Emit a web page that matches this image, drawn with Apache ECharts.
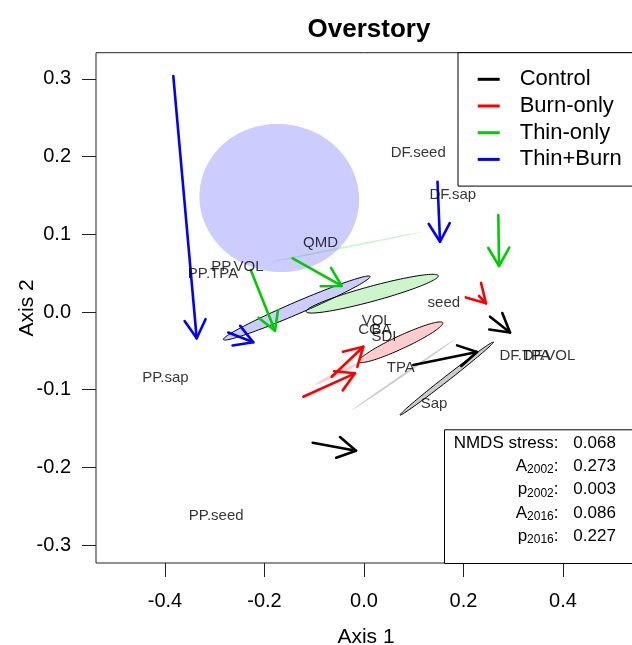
<!DOCTYPE html>
<html>
<head>
<meta charset="utf-8">
<script src="https://cdn.jsdelivr.net/npm/echarts@6/dist/echarts.min.js"></script>
<style>
  html, body { margin: 0; padding: 0; background: #fff; }
  #chart { width: 632px; height: 645px; }
</style>
</head>
<body>
<div id="chart"></div>
<script>
// NMDS ordination of overstory plots, 2002 -> 2016, by treatment

const treatments = ['Control', 'Burn-only', 'Thin-only', 'Thin+Burn'];

// Plot centroid shifts between surveys: [x2002, y2002, x2016, y2016]
const controlShifts  = [[-0.1031, -0.1682, -0.0161, -0.1785], [0.0991, -0.0682, 0.2271, -0.0515], [0.2533, -0.0060, 0.2935, -0.0264]];
const burnShifts     = [[-0.1220, -0.1090, -0.0181, -0.0789], [-0.0649, -0.0833, -0.0014, -0.0447], [0.2312, 0.0206, 0.2452, 0.0112]];
const thinShifts     = [[-0.2277, 0.0541, -0.1789, -0.0241], [-0.1433, 0.0691, -0.0448, 0.0335], [0.2700, 0.1248, 0.2714, 0.0592]];
const thinBurnShifts = [[-0.3833, 0.3037, -0.3363, -0.0338], [0.1477, 0.1677, 0.1528, 0.0905], [-0.2728, -0.0264, -0.2225, -0.0389]];

// Group dispersion ellipses: [centreX, centreY, majorTipX, majorTipY, minor/major ratio]
const controlEllipse2002  = [[0.0794, -0.0807, 0.1829, -0.0351, 0.016]];
const controlEllipse2016  = [[0.1664, -0.0856, 0.2603, -0.0386, 0.042]];
const burnEllipse2002     = [[-0.0549, -0.0798, -0.0115, -0.0660, 0.07]];
const burnEllipse2016     = [[0.0740, -0.0389, 0.1582, -0.0138, 0.14]];
const thinEllipse2002     = [[-0.0352, 0.0837, 0.1192, 0.1033, 0.012]];
const thinEllipse2016     = [[0.0165, 0.0236, 0.1493, 0.0467, 0.11]];
const thinBurnEllipse2002 = [[-0.1703, 0.1467, -0.0111, 0.1324, 0.925]];
const thinBurnEllipse2016 = [[-0.1353, 0.0051, 0.0121, 0.0457, 0.075]];

// Stand-structure variable scores
const varNames = ['DF.seed', 'DF.sap', 'QMD', 'PP.VOL', 'PP.TPA', 'PP.sap', 'PP.seed', 'seed', 'VOL', 'CC', 'BA', 'SDI', 'TPA', 'Sap', 'DF.TPA', 'DF.VOL'];
const varX = [0.1091, 0.1785, -0.0874, -0.2543, -0.3035, -0.3990, -0.2971, 0.1604, 0.0255, 0.0100, 0.0350, 0.0402, 0.0740, 0.1407, 0.3230, 0.3719];
const varY = [0.2050, 0.1506, 0.0884, 0.0575, 0.0485, -0.0846, -0.2625, 0.0120, -0.0112, -0.0230, -0.0230, -0.0318, -0.0725, -0.1184, -0.0566, -0.0566];

const xTicks = [-0.4, -0.2, 0, 0.2, 0.4];
const yTicks = [-0.3, -0.2, -0.1, 0, 0.1, 0.2, 0.3];

// Fit statistics
const statNames = [['NMDS stress', ''], ['A', '2002'], ['p', '2002'], ['A', '2016'], ['p', '2016']];
const statValues = ['0.068', '0.273', '0.003', '0.086', '0.227'];

const FONT = '"Liberation Sans", Arial, Helvetica, sans-serif';
const groupColors = { 'Control': '#000000', 'Burn-only': '#FF0000', 'Thin-only': '#00CD00', 'Thin+Burn': '#0000FF' };
const groupFills  = { 'Control': 'rgba(0,0,0,0.2)', 'Burn-only': 'rgba(255,0,0,0.2)', 'Thin-only': 'rgba(0,205,0,0.2)', 'Thin+Burn': 'rgba(0,0,255,0.2)' };

function ellipseRenderer(fill, stroke) {
  return function (params, api) {
    const c = api.coord([api.value(0), api.value(1)]);
    const t = api.coord([api.value(2), api.value(3)]);
    const r = api.value(4);
    const ux = t[0] - c[0], uy = t[1] - c[1];
    const vx = -uy * r, vy = ux * r;
    const pts = [];
    const n = 120;
    for (let i = 0; i < n; i++) {
      const a = (i / n) * Math.PI * 2;
      const ca = Math.cos(a), sa = Math.sin(a);
      pts.push([c[0] + ca * ux + sa * vx, c[1] + ca * uy + sa * vy]);
    }
    return {
      type: 'polygon',
      shape: { points: pts },
      style: { fill: fill, stroke: stroke || null, lineWidth: stroke ? 1 : 0 }
    };
  };
}

function arrowRenderer(color) {
  return function (params, api) {
    const a = api.coord([api.value(0), api.value(1)]);
    const b = api.coord([api.value(2), api.value(3)]);
    const ang = Math.atan2(b[1] - a[1], b[0] - a[0]);
    const L = 21, phi = Math.PI / 6;
    const h1 = [b[0] - L * Math.cos(ang - phi), b[1] - L * Math.sin(ang - phi)];
    const h2 = [b[0] - L * Math.cos(ang + phi), b[1] - L * Math.sin(ang + phi)];
    return {
      type: 'group',
      children: [
        { type: 'line', shape: { x1: a[0], y1: a[1], x2: b[0], y2: b[1] },
          style: { stroke: color, lineWidth: 2.6, lineCap: 'round' } },
        { type: 'polyline', shape: { points: [h1, b, h2] },
          style: { stroke: color, lineWidth: 2.6, fill: null, lineCap: 'round', lineJoin: 'round' } }
      ]
    };
  };
}

function ellipseSeries(name, data, fill, stroke) {
  return {
    type: 'custom', name: name, coordinateSystem: 'cartesian2d',
    data: data, encode: { x: [0, 2], y: [1, 3] },
    renderItem: ellipseRenderer(fill, stroke), silent: true, z: 2
  };
}

function arrowSeries(name, data) {
  return {
    type: 'custom', name: name, coordinateSystem: 'cartesian2d',
    data: data, encode: { x: [0, 2], y: [1, 3] },
    itemStyle: { color: groupColors[name] },
    renderItem: arrowRenderer(groupColors[name]), z: 4
  };
}

const series = [
  ellipseSeries('Thin+Burn 2002', thinBurnEllipse2002, groupFills['Thin+Burn'], null),
  ellipseSeries('Thin-only 2002', thinEllipse2002, groupFills['Thin-only'], null),
  ellipseSeries('Burn-only 2002', burnEllipse2002, groupFills['Burn-only'], null),
  ellipseSeries('Control 2002', controlEllipse2002, groupFills['Control'], null),
  ellipseSeries('Thin+Burn 2016', thinBurnEllipse2016, groupFills['Thin+Burn'], '#000'),
  ellipseSeries('Thin-only 2016', thinEllipse2016, groupFills['Thin-only'], '#000'),
  ellipseSeries('Burn-only 2016', burnEllipse2016, groupFills['Burn-only'], '#000'),
  ellipseSeries('Control 2016', controlEllipse2016, groupFills['Control'], '#000'),
  arrowSeries('Control', controlShifts),
  arrowSeries('Burn-only', burnShifts),
  arrowSeries('Thin-only', thinShifts),
  arrowSeries('Thin+Burn', thinBurnShifts),
  {
    type: 'scatter', name: 'Variables', symbolSize: 1, z: 5,
    itemStyle: { color: 'rgba(0,0,0,0)' },
    data: varNames.map((n, i) => ({ name: n, value: [varX[i], varY[i]] })),
    label: {
      show: true, position: 'inside', formatter: '{b}',
      fontFamily: FONT, fontSize: 15, color: '#000',
      textBorderWidth: 0, textBorderColor: 'transparent'
    },
    emphasis: { disabled: true }
  }
];

const statRowTop = 443.3, statRowGap = 23.2;
const statGraphics = [
  { type: 'rect', left: 444, top: 429.3, z: 10,
    shape: { width: 200, height: 133.7 },
    style: { fill: '#fff', stroke: '#000', lineWidth: 1 } }
];
statNames.forEach((s, i) => {
  const y = statRowTop + i * statRowGap;
  const txt = s[1] ? '{m|' + s[0] + '}{s|' + s[1] + '}{m|:}' : '{m|' + s[0] + ':}';
  statGraphics.push({
    type: 'text', x: 558.5, y: y, z: 11,
    style: {
      text: txt, align: 'right', verticalAlign: 'middle',
      rich: {
        m: { fontFamily: FONT, fontSize: 17, fill: '#000' },
        s: { fontFamily: FONT, fontSize: 12, fill: '#000', padding: [7, 0, 0, 0] }
      }
    }
  });
  statGraphics.push({
    type: 'text', x: 573.3, y: y, z: 11,
    style: { text: statValues[i], align: 'left', verticalAlign: 'middle',
      fontFamily: FONT, fontSize: 17, fill: '#000' }
  });
});

const chart = echarts.init(document.getElementById('chart'), null, { renderer: 'canvas' });
chart.setOption({
  animation: false,
  backgroundColor: '#fff',
  title: {
    text: 'Overstory', left: 364, top: 12, textAlign: 'center',
    textStyle: { fontFamily: FONT, fontSize: 26, fontWeight: 'bold', color: '#000' }
  },
  grid: {
    show: true, left: 96, top: 52.7, width: 540, height: 510.3,
    outerBoundsMode: 'none', containLabel: false,
    borderColor: '#222', borderWidth: 1, backgroundColor: 'transparent'
  },
  legend: {
    data: treatments.map(t => ({ name: t, icon: 'rect', itemStyle: { color: groupColors[t] } })),
    orient: 'vertical', left: 458, top: 52.7,
    padding: [15.6, 20, 15.7, 19.7],
    itemWidth: 22, itemHeight: 3, itemGap: 4.7,
    borderColor: '#000', borderWidth: 1, backgroundColor: '#fff',
    textStyle: { fontFamily: FONT, fontSize: 22, lineHeight: 22, color: '#000', padding: [0, 0, 0, 15] },
    selectedMode: false, z: 10
  },
  xAxis: {
    type: 'value', min: -0.5387, max: 0.5467, position: 'bottom',
    name: 'Axis 1', nameLocation: 'middle', nameGap: 64,
    nameTextStyle: { fontFamily: FONT, fontSize: 21, color: '#000' },
    axisLine: { show: false, onZero: false },
    splitLine: { show: false },
    axisTick: { show: true, inside: false, length: 14, customValues: xTicks, lineStyle: { color: '#222', width: 1 } },
    axisLabel: { customValues: xTicks, margin: 28, fontFamily: FONT, fontSize: 20, color: '#000',
      formatter: v => v.toFixed(1) }
  },
  yAxis: {
    type: 'value', min: -0.3230, max: 0.3337, position: 'left',
    name: 'Axis 2', nameLocation: 'middle', nameGap: 58, nameRotate: 90, nameMoveOverlap: false,
    nameTextStyle: { fontFamily: FONT, fontSize: 21, color: '#000' },
    axisLine: { show: false, onZero: false },
    splitLine: { show: false },
    axisTick: { show: true, inside: false, length: 14, customValues: yTicks, lineStyle: { color: '#222', width: 1 } },
    axisLabel: { customValues: yTicks, margin: 25, fontFamily: FONT, fontSize: 20, color: '#000',
      formatter: v => v.toFixed(1) }
  },
  series: series,
  graphic: statGraphics
});
</script>
</body>
</html>
